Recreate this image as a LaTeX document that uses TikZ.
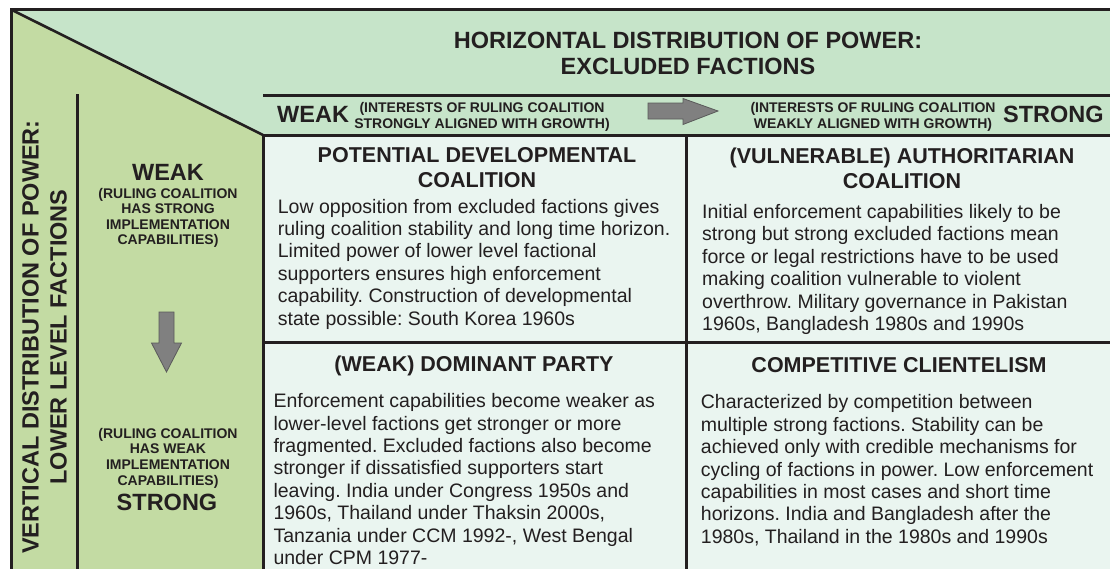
\documentclass[tikz,border=0pt]{standalone}
\usepackage{fontspec}
\setmainfont{Liberation Sans}
\frenchspacing

\definecolor{headgreen}{HTML}{C6E4C9}
\definecolor{sidegreen}{HTML}{C3DBA3}
\definecolor{cellgreen}{HTML}{EAF5F0}
\definecolor{rulecol}{HTML}{231F20}
\definecolor{arrowgrey}{HTML}{808080}

\begin{document}
\begin{tikzpicture}[x=1pt, y=-1pt,
  frame/.style={line width=3pt, draw=rulecol},
  bodytext/.style={anchor=base west, align=left, inner sep=0pt, text=rulecol,
    font=\fontsize{19.5}{22.4}\selectfont},
  celltitle/.style={anchor=base, align=center, inner sep=0pt, text=rulecol,
    font=\bfseries\fontsize{21.5}{25}\selectfont},
  biglabel/.style={anchor=base, inner sep=0pt, text=rulecol,
    font=\bfseries\fontsize{23.5}{26}\selectfont},
  smalllabel/.style={anchor=base, align=center, inner sep=0pt, text=rulecol,
    font=\bfseries\fontsize{14}{15.5}\selectfont},
  bigarrow/.style={fill=arrowgrey, draw=arrowgrey!70!black, line width=0.8pt}]

  \useasboundingbox (0,0) rectangle (1110,568);

  % -- Background areas --
  \fill[cellgreen] (263,135) rectangle (1120,580);
  \fill[headgreen] (11,9.5) -- (1120,9.5) -- (1120,135) -- (263,135) -- cycle;
  \fill[sidegreen] (11,9.5) -- (263,135) -- (263,580) -- (11,580) -- cycle;

  % -- Frame and grid --
  \draw[frame] (1120,9.5) -- (11,9.5) -- (11,580);
  \draw[frame, line width=2.6pt] (11,9.5) -- (263,135);
  \draw[frame] (263,95) -- (1120,95);
  \draw[frame] (263,580) -- (263,135) -- (1120,135);
  \draw[frame] (686,135) -- (686,580);
  \draw[frame] (263,342) -- (1120,342);
  \draw[frame] (77,94) -- (77,580);

  % -- Horizontal axis (base anchor = last line) --
  \node[celltitle, font=\bfseries\fontsize{23.5}{26}\selectfont] (htitle) at (688,74)
    {HORIZONTAL DISTRIBUTION OF POWER:\\EXCLUDED FACTIONS};
  \node[biglabel, anchor=base west] (hweak) at (277,122) {WEAK};
  \node[smalllabel, font=\bfseries\fontsize{14}{15.3}\selectfont] (hweaksub) at (482,128)
    {(INTERESTS OF RULING COALITION\\STRONGLY ALIGNED WITH GROWTH)};
  \node[smalllabel, font=\bfseries\fontsize{14}{15.3}\selectfont] (hstrongsub) at (873,128)
    {(INTERESTS OF RULING COALITION\\WEAKLY ALIGNED WITH GROWTH)};
  \node[biglabel, anchor=base west] (hstrong) at (1003,122) {STRONG};
  \draw[bigarrow] (648,103) -- (683,103) -- (683,98.5) -- (718,111)
    -- (683,124.5) -- (683,119) -- (648,119) -- cycle;

  % -- Vertical axis --
  \node[biglabel, anchor=center, align=center, rotate=90,
    font=\bfseries\fontsize{23.5}{28}\selectfont] (vtitle) at (44.5,337)
    {VERTICAL DISTRIBUTION OF POWER:\\LOWER LEVEL FACTIONS};
  \node[biglabel] (vweak) at (168,180.7) {WEAK};
  \node[smalllabel, font=\bfseries\fontsize{14}{15.6}\selectfont] (vweaksub) at (168,244.8)
    {(RULING COALITION\\HAS STRONG\\IMPLEMENTATION\\CAPABILITIES)};
  \node[smalllabel, font=\bfseries\fontsize{14}{15.6}\selectfont] (vstrongsub) at (168,485)
    {(RULING COALITION\\HAS WEAK\\IMPLEMENTATION\\CAPABILITIES)};
  \node[biglabel] (vstrong) at (167,510) {STRONG};
  \draw[bigarrow] (159,312) -- (174,312) -- (174,343) -- (181.5,343)
    -- (166.5,372) -- (151.5,343) -- (159,343) -- cycle;

  % -- Cell: weak / weak --
  \node[celltitle] (devtitle) at (477,187)
    {POTENTIAL DEVELOPMENTAL\\COALITION};
  \node[bodytext] (devtext) at (277.7,325)
    {Low opposition from excluded factions gives\\
     ruling coalition stability and long time horizon.\\
     Limited power of lower level factional\\
     supporters ensures high enforcement\\
     capability. Construction of developmental\\
     state possible: South Korea 1960s};

  % -- Cell: strong / weak --
  \node[celltitle] (authtitle) at (902,188.3)
    {(VULNERABLE) AUTHORITARIAN\\COALITION};
  \node[bodytext] (authtext) at (702,330.5)
    {Initial enforcement capabilities likely to be\\
     strong but strong excluded factions mean\\
     force or legal restrictions have to be used\\
     making coalition vulnerable to violent\\
     overthrow. Military governance in Pakistan\\
     1960s, Bangladesh 1980s and 1990s};

  % -- Cell: weak / strong --
  \node[celltitle] (domtitle) at (474,371.7) {(WEAK) DOMINANT PARTY};
  \node[bodytext] (domtext) at (273.3,564.5)
    {Enforcement capabilities become weaker as\\
     lower-level factions get stronger or more\\
     fragmented. Excluded factions also become\\
     stronger if dissatisfied supporters start\\
     leaving. India under Congress 1950s and\\
     1960s, Thailand under Thaksin 2000s,\\
     Tanzania under CCM 1992-, West Bengal\\
     under CPM 1977-};

  % -- Cell: strong / strong --
  \node[celltitle] (comptitle) at (899,372) {COMPETITIVE CLIENTELISM};
  \node[bodytext] (comptext) at (700.7,543.2)
    {Characterized by competition between\\
     multiple strong factions. Stability can be\\
     achieved only with credible mechanisms for\\
     cycling of factions in power. Low enforcement\\
     capabilities in most cases and short time\\
     horizons. India and Bangladesh after the\\
     1980s, Thailand in the 1980s and 1990s};

\end{tikzpicture}
\end{document}
